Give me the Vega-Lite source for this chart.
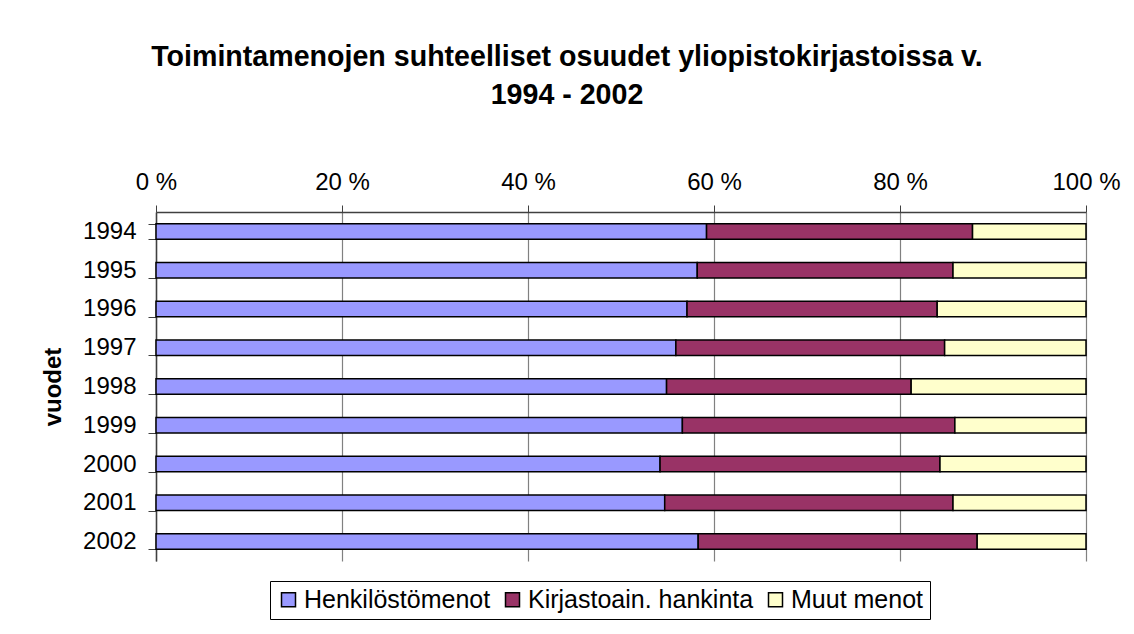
{
  "$schema": "https://vega.github.io/schema/vega-lite/v6.json",
  "width": 930,
  "height": 349,
  "autosize": {"type": "none"},
  "padding": {"left": 156, "top": 212, "right": 48, "bottom": 73},
  "background": "white",
  "title": {
    "text": ["Toimintamenojen suhteelliset osuudet yliopistokirjastoissa v.", "1994 - 2002"],
    "font": "Liberation Sans",
    "fontSize": 28.6,
    "fontWeight": "bold",
    "color": "black",
    "anchor": "middle",
    "frame": "group",
    "dx": -54,
    "offset": 60,
    "lineHeight": 38
  },
  "data": {
    "values": [
      {"vuosi": "1994", "laji": "Henkilöstömenot", "o": 0, "osuus": 59.2},
      {"vuosi": "1994", "laji": "Kirjastoain. hankinta", "o": 1, "osuus": 28.6},
      {"vuosi": "1994", "laji": "Muut menot", "o": 2, "osuus": 12.2},
      {"vuosi": "1995", "laji": "Henkilöstömenot", "o": 0, "osuus": 58.2},
      {"vuosi": "1995", "laji": "Kirjastoain. hankinta", "o": 1, "osuus": 27.5},
      {"vuosi": "1995", "laji": "Muut menot", "o": 2, "osuus": 14.3},
      {"vuosi": "1996", "laji": "Henkilöstömenot", "o": 0, "osuus": 57.1},
      {"vuosi": "1996", "laji": "Kirjastoain. hankinta", "o": 1, "osuus": 26.9},
      {"vuosi": "1996", "laji": "Muut menot", "o": 2, "osuus": 16.0},
      {"vuosi": "1997", "laji": "Henkilöstömenot", "o": 0, "osuus": 55.9},
      {"vuosi": "1997", "laji": "Kirjastoain. hankinta", "o": 1, "osuus": 28.9},
      {"vuosi": "1997", "laji": "Muut menot", "o": 2, "osuus": 15.2},
      {"vuosi": "1998", "laji": "Henkilöstömenot", "o": 0, "osuus": 54.9},
      {"vuosi": "1998", "laji": "Kirjastoain. hankinta", "o": 1, "osuus": 26.3},
      {"vuosi": "1998", "laji": "Muut menot", "o": 2, "osuus": 18.8},
      {"vuosi": "1999", "laji": "Henkilöstömenot", "o": 0, "osuus": 56.6},
      {"vuosi": "1999", "laji": "Kirjastoain. hankinta", "o": 1, "osuus": 29.3},
      {"vuosi": "1999", "laji": "Muut menot", "o": 2, "osuus": 14.1},
      {"vuosi": "2000", "laji": "Henkilöstömenot", "o": 0, "osuus": 54.2},
      {"vuosi": "2000", "laji": "Kirjastoain. hankinta", "o": 1, "osuus": 30.1},
      {"vuosi": "2000", "laji": "Muut menot", "o": 2, "osuus": 15.7},
      {"vuosi": "2001", "laji": "Henkilöstömenot", "o": 0, "osuus": 54.7},
      {"vuosi": "2001", "laji": "Kirjastoain. hankinta", "o": 1, "osuus": 31.0},
      {"vuosi": "2001", "laji": "Muut menot", "o": 2, "osuus": 14.3},
      {"vuosi": "2002", "laji": "Henkilöstömenot", "o": 0, "osuus": 58.3},
      {"vuosi": "2002", "laji": "Kirjastoain. hankinta", "o": 1, "osuus": 30.0},
      {"vuosi": "2002", "laji": "Muut menot", "o": 2, "osuus": 11.7}
    ]
  },
  "mark": {"type": "bar", "stroke": "black", "strokeWidth": 1.5},
  "encoding": {
    "y": {
      "field": "vuosi",
      "type": "nominal",
      "sort": null,
      "scale": {"paddingInner": 0.6, "paddingOuter": 0.3},
      "axis": {
        "title": "vuodet",
        "titleFont": "Liberation Sans",
        "titleFontSize": 24,
        "titleFontWeight": "bold",
        "titleColor": "black",
        "titlePadding": 17,
        "labelFont": "Liberation Sans",
        "labelFontSize": 24,
        "labelColor": "black",
        "labelPadding": 12,
        "tickBand": "extent",
        "tickSize": 8,
        "tickColor": "#404040",
        "domainColor": "#404040",
        "domainWidth": 1.5,
        "grid": false
      }
    },
    "x": {
      "field": "osuus",
      "type": "quantitative",
      "stack": "zero",
      "scale": {"domain": [0, 100], "nice": false},
      "axis": {
        "orient": "top",
        "title": null,
        "values": [0, 20, 40, 60, 80, 100],
        "labelExpr": "datum.value + ' %'",
        "labelFlush": false,
        "labelOverlap": false,
        "labelFont": "Liberation Sans",
        "labelFontSize": 24,
        "labelColor": "black",
        "labelPadding": 11,
        "tickSize": 7,
        "tickColor": "#404040",
        "domainColor": "#404040",
        "domainWidth": 1.5,
        "grid": true,
        "gridColor": "#808080",
        "gridWidth": 1.2
      }
    },
    "color": {
      "field": "laji",
      "type": "nominal",
      "scale": {
        "domain": ["Henkilöstömenot", "Kirjastoain. hankinta", "Muut menot"],
        "range": ["#9999FF", "#993366", "#FFFFCC"]
      },
      "legend": {
        "title": null,
        "orient": "none",
        "direction": "horizontal",
        "legendX": 114,
        "legendY": 369,
        "symbolType": "square",
        "symbolSize": 196,
        "symbolStrokeColor": "black",
        "symbolStrokeWidth": 1.5,
        "symbolOpacity": 1,
        "labelFont": "Liberation Sans",
        "labelFontSize": 25,
        "labelColor": "black",
        "labelLimit": 0,
        "labelOffset": 3,
        "columnPadding": 9,
        "strokeColor": "black",
        "padding": 6,
        "fillColor": "white"
      }
    },
    "order": {"field": "o", "type": "quantitative"}
  },
  "config": {
    "view": {"stroke": null},
    "font": "Liberation Sans"
  }
}
